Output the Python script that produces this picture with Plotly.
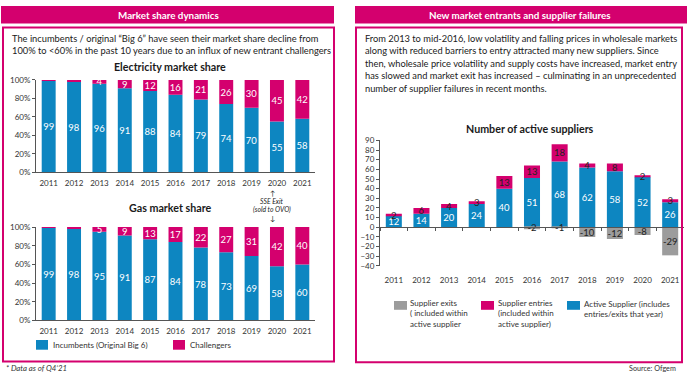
import plotly.graph_objects as go

# ---------------- data ----------------
years = ["2011", "2012", "2013", "2014", "2015", "2016", "2017", "2018", "2019", "2020", "2021"]
elec_incumbents = [99, 98, 96, 91, 88, 84, 79, 74, 70, 55, 58]
elec_challengers = [1, 2, 4, 9, 12, 16, 21, 26, 30, 45, 42]
gas_incumbents = [99, 98, 95, 91, 87, 84, 78, 73, 69, 58, 60]
gas_challengers = [1, 2, 5, 9, 13, 17, 22, 27, 31, 42, 40]
active_suppliers = [12, 14, 20, 24, 40, 51, 68, 62, 58, 52, 26]
supplier_entries = [2, 6, 4, 3, 13, 13, 18, 4, 8, 2, 3]
supplier_exits = [0, 0, 0, 0, 0, -2, -1, -10, -12, -8, -29]

share_ticks = [0, 20, 40, 60, 80, 100]
share_ticklabels = ["0%", "20%", "40%", "60%", "80%", "100%"]
supplier_range = [-40, 90]

# ---------------- style ----------------
W, H = 687, 381
BLUE = "#0d86c1"
PINK = "#d4006e"
GRAY = "#9c9c9c"
TXT = "#1a1a1a"
AX = "#555555"
FONT = "Lato"


def px(x):
    return x / W


def py(y):
    return 1 - y / H


def share_text(vals, minimum=4):
    return [str(v) if v >= minimum else "" for v in vals]


fig = go.Figure()

bar_common = dict(textposition="inside", insidetextanchor="middle", textangle=0,
                  hoverinfo="skip", showlegend=False)
LBL = 9.5

# Electricity
fig.add_trace(go.Bar(x=years, y=elec_incumbents, text=[str(v) for v in elec_incumbents],
                     marker=dict(color=BLUE, line=dict(width=0)), width=0.55,
                     textfont=dict(color="white", size=LBL, family=FONT),
                     xaxis="x", yaxis="y", name="Incumbents (Original Big 6)", **bar_common))
fig.add_trace(go.Bar(x=years, y=elec_challengers, text=share_text(elec_challengers),
                     marker=dict(color=PINK, line=dict(width=0)), width=0.55,
                     textfont=dict(color="white", size=LBL, family=FONT),
                     xaxis="x", yaxis="y", name="Challengers", **bar_common))
# Gas
fig.add_trace(go.Bar(x=years, y=gas_incumbents, text=[str(v) for v in gas_incumbents],
                     marker=dict(color=BLUE, line=dict(width=0)), width=0.55,
                     textfont=dict(color="white", size=LBL, family=FONT),
                     xaxis="x2", yaxis="y2", name="Incumbents (Original Big 6)", **bar_common))
fig.add_trace(go.Bar(x=years, y=gas_challengers, text=share_text(gas_challengers),
                     marker=dict(color=PINK, line=dict(width=0)), width=0.55,
                     textfont=dict(color="white", size=LBL, family=FONT),
                     xaxis="x2", yaxis="y2", name="Challengers", **bar_common))
# Suppliers
fig.add_trace(go.Bar(x=years, y=active_suppliers, text=[str(v) for v in active_suppliers],
                     marker=dict(color=BLUE, line=dict(width=0)), width=0.58,
                     textfont=dict(color="white", size=LBL, family=FONT),
                     xaxis="x3", yaxis="y3", name="Active Supplier", **bar_common))
fig.add_trace(go.Bar(x=years, y=supplier_entries, text=[str(v) for v in supplier_entries],
                     marker=dict(color=PINK, line=dict(width=0)), width=0.58,
                     textfont=dict(color="#222222", size=LBL, family=FONT),
                     xaxis="x3", yaxis="y3", name="Supplier entries", **bar_common))
fig.add_trace(go.Bar(x=years, y=supplier_exits,
                     text=[str(v) if v != 0 else "" for v in supplier_exits],
                     marker=dict(color=GRAY, line=dict(width=0)), width=0.58,
                     textfont=dict(color="#222222", size=LBL, family=FONT),
                     xaxis="x4", yaxis="y3", name="Supplier exits", **bar_common))

# ---------------- axes ----------------
left_dom = [px(36), px(315)]
elec_dom = [py(172), py(77)]
gas_dom = [py(324), py(228)]
sup_xdom = [px(380), px(684)]
sup_ydom = [py(268), py(139)]
zero_pos = sup_ydom[0] + (0 - supplier_range[0]) / (supplier_range[1] - supplier_range[0]) * (sup_ydom[1] - sup_ydom[0])

tickfont = dict(family=FONT, size=8, color="#333333")
xcommon = dict(showline=True, linecolor=AX, linewidth=1, ticks="", showgrid=False,
               zeroline=False, tickfont=tickfont, fixedrange=True, ticklabelstandoff=3)
ycommon = dict(showline=True, linecolor=AX, linewidth=1, ticks="outside", ticklen=3,
               tickcolor=AX, showgrid=False, zeroline=False, tickfont=tickfont, fixedrange=True)

fig.update_layout(
    xaxis=dict(domain=left_dom, anchor="y", **xcommon),
    yaxis=dict(domain=elec_dom, anchor="x", range=[0, 100], tickvals=share_ticks,
               ticktext=share_ticklabels, **ycommon),
    xaxis2=dict(domain=left_dom, anchor="y2", **xcommon),
    yaxis2=dict(domain=gas_dom, anchor="x2", range=[0, 100], tickvals=share_ticks,
                ticktext=share_ticklabels, **ycommon),
    xaxis3=dict(domain=sup_xdom, anchor="free", position=zero_pos, showline=True,
                linecolor=AX, linewidth=1, ticks="outside", tickson="boundaries", ticklen=3,
                tickcolor=AX, showticklabels=False, showgrid=False, zeroline=False,
                fixedrange=True),
    xaxis4=dict(overlaying="x3", matches="x3", anchor="y3", showline=False, ticks="",
                showgrid=False, zeroline=False, tickfont=tickfont, fixedrange=True,
                ticklabelstandoff=8),
    yaxis3=dict(domain=sup_ydom, anchor="x3", range=supplier_range, dtick=10, **ycommon),
)

# ---------------- decorations ----------------
shapes = [
    dict(type="rect", xref="paper", yref="paper", x0=px(1), x1=px(334), y0=py(19), y1=py(1),
         fillcolor=PINK, line=dict(width=0)),
    dict(type="rect", xref="paper", yref="paper", x0=px(355), x1=px(687), y0=py(19), y1=py(1),
         fillcolor=PINK, line=dict(width=0)),
    dict(type="rect", xref="paper", yref="paper", x0=px(3), x1=px(334), y0=py(366), y1=py(23),
         fillcolor="rgba(0,0,0,0)", line=dict(color=PINK, width=2)),
    dict(type="rect", xref="paper", yref="paper", x0=px(356), x1=px(682), y0=py(367), y1=py(23),
         fillcolor="rgba(0,0,0,0)", line=dict(color=PINK, width=2)),
    # legend swatches (left)
    dict(type="rect", xref="paper", yref="paper", x0=px(36), x1=px(48), y0=py(354), y1=py(344),
         fillcolor=BLUE, line=dict(width=0)),
    dict(type="rect", xref="paper", yref="paper", x0=px(173), x1=px(185), y0=py(354), y1=py(344),
         fillcolor=PINK, line=dict(width=0)),
    # legend swatches (right)
    dict(type="rect", xref="paper", yref="paper", x0=px(394), x1=px(407), y0=py(313), y1=py(304),
         fillcolor=GRAY, line=dict(width=0)),
    dict(type="rect", xref="paper", yref="paper", x0=px(481), x1=px(494), y0=py(313), y1=py(304),
         fillcolor=PINK, line=dict(width=0)),
    dict(type="rect", xref="paper", yref="paper", x0=px(567), x1=px(580), y0=py(313), y1=py(304),
         fillcolor=BLUE, line=dict(width=0)),
]


def ann(text, x, y, size, xanchor="left", yanchor="middle", bold=False, italic=False,
        color=TXT, align="left"):
    t = text
    if bold:
        t = "<b>" + t + "</b>"
    if italic:
        t = "<i>" + t + "</i>"
    return dict(text=t, x=px(x), y=py(y), xref="paper", yref="paper", showarrow=False,
                xanchor=xanchor, yanchor=yanchor, align=align,
                font=dict(family=FONT, size=size, color=color))


BODY = 9.3
annotations = [
    ann("Market share dynamics", 168, 10, 9.8, xanchor="center", bold=True, color="white"),
    ann("New market entrants and supplier failures", 520, 10, 9.8, xanchor="center", bold=True,
        color="white"),
    ann("The incumbents / original \u201cBig 6\u201d have seen their market share decline from",
        10, 34, BODY),
    ann("100% to &lt;60% in the past 10 years due to an influx of new entrant challengers",
        10, 47, BODY),
    ann("Electricity market share", 170, 63, 10.7, xanchor="center", bold=True),
    ann("Gas market share", 170, 208, 10.7, xanchor="center", bold=True),
    ann("Number of active suppliers", 530, 127, 10.7, xanchor="center", bold=True),
    ann("\u2191", 272, 193, 7, xanchor="center"),
    ann("SSE Exit", 272, 201, 6.8, xanchor="center", italic=True),
    ann("(sold to OVO)", 272, 210, 6.8, xanchor="center", italic=True),
    ann("\u2193", 272, 219, 7, xanchor="center"),
    ann("Incumbents (Original Big 6)", 51, 349, 8, color="#333333"),
    ann("Challengers", 188, 349, 8, color="#333333"),
    ann("Supplier exits<br>( included within<br>active supplier", 408, 317, 8,
        color="#333333"),
    ann("Supplier entries<br>(included within<br>active supplier)", 496, 317, 8,
        color="#333333"),
    ann("Active Supplier (includes<br>entries/exits that year)", 582, 312, 8,
        color="#333333"),
    ann("* Data as of Q4\u201921", 4, 373, 7.8, italic=True, color="#333333"),
    ann("Source: Ofgem", 678, 373, 7.2, xanchor="right", color="#333333"),
]

right_lines = [
    "From 2013 to mid-2016, low volatility and falling prices in wholesale markets",
    "along with reduced barriers to entry attracted many new suppliers. Since",
    "then, wholesale price volatility and supply costs have increased, market entry",
    "has slowed and market exit has increased \u2013 culminating in an unprecedented",
    "number of supplier failures in recent months.",
]
for i, line in enumerate(right_lines):
    annotations.append(ann(line, 363, 34 + i * 12.9, BODY))

fig.update_layout(
    width=W, height=H, margin=dict(l=0, r=0, t=0, b=0),
    paper_bgcolor="white", plot_bgcolor="white",
    barmode="relative", showlegend=False,
    uniformtext=dict(minsize=LBL, mode="show"),
    font=dict(family=FONT, color=TXT),
    shapes=shapes, annotations=annotations,
)

fig.write_html("out.html", config={"displayModeBar": False},
               post_script="document.body.style.margin='0';document.body.style.padding='0';")
